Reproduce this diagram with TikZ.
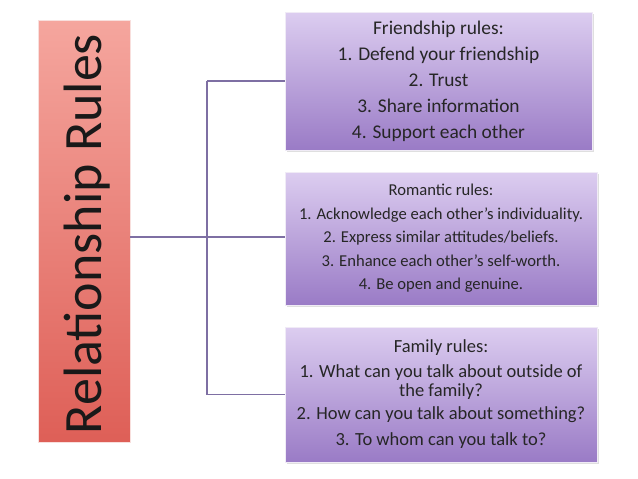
\documentclass[tikz,border=0pt]{standalone}
\usepackage{fontspec}
\setmainfont{Carlito}
\usetikzlibrary{shadows}
\definecolor{linecol}{HTML}{7E6FA3}
\definecolor{redtop}{HTML}{F5A69E}
\definecolor{redbot}{HTML}{DE5F57}
\definecolor{purtop}{HTML}{DCCDF0}
\definecolor{purbot}{HTML}{9A7BC6}
\tikzset{
  rulebox/.style={draw=white!85!purbot, line width=0.6pt, top color=purtop, bottom color=purbot,
    align=center, inner sep=0pt, text=black!85,
    drop shadow={opacity=0.25, shadow xshift=1.5pt, shadow yshift=-1.5pt}},
  titlebox/.style={draw=white!80!redbot, line width=0.6pt, top color=redtop, bottom color=redbot,
    inner sep=0pt, text=black!90},
  conn/.style={draw=linecol, line width=1.3pt}
}
\begin{document}
\begin{tikzpicture}[x=1pt,y=-1pt]
\useasboundingbox[fill=white] (0,0) rectangle (638,479);
\node[titlebox, minimum width=92pt, minimum height=422pt] (title) at (84,231) {};
\node[rotate=90, font=\fontsize{54}{58}\selectfont, text=black!90] (titletext) at (87,234) {Relationship Rules};
\node[rulebox, minimum width=307pt, minimum height=138pt, font=\fontsize{19.4}{26}\selectfont] (friend) at (438.5,81)
  {Friendship rules:\\ 1. Defend your friendship\\ 2. Trust\\ 3. Share information\\ 4. Support each other};
\node[rulebox, minimum width=312pt, minimum height=133pt, font=\fontsize{16.6}{23.5}\selectfont] (romance) at (441,238.5)
  {Romantic rules:\\ 1. Acknowledge each other’s individuality.\\ 2. Express similar attitudes/beliefs.\\ 3. Enhance each other’s self-worth.\\ 4. Be open and genuine.};
\node[rulebox, minimum width=312pt, minimum height=135pt, font=\fontsize{18.5}{19}\selectfont] (family) at (441,394.5)
  {Family rules:\\[6pt] 1. What can you talk about outside of\\ the family?\\[4pt] 2. How can you talk about something?\\[7pt] 3. To whom can you talk to?};
\coordinate (junc) at (207,237);
\coordinate (start) at (130,237);
\draw[conn] (start) -- (junc) -- (junc -| romance.west);
\draw[conn] (junc |- friend.west) -- (junc |- family.west);
\draw[conn] (junc |- friend.west) -- (friend.west);
\draw[conn] (junc |- family.west) -- (family.west);
\end{tikzpicture}
\end{document}
